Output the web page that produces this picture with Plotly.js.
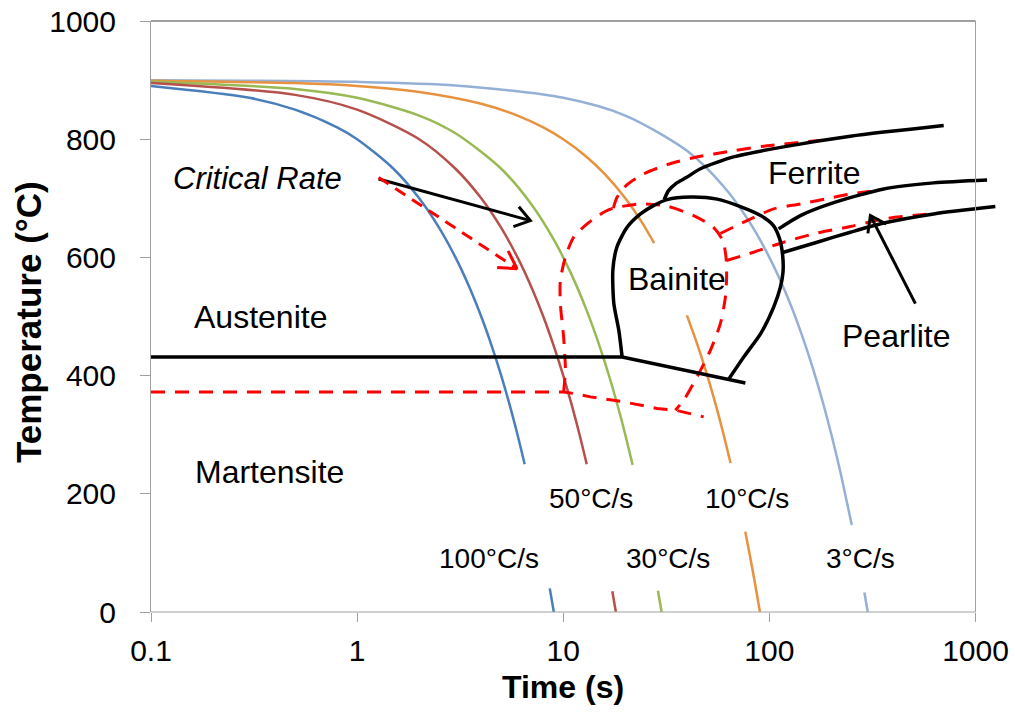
<!DOCTYPE html>
<html><head><meta charset="utf-8">
<script src="https://cdn.plot.ly/plotly-3.0.1.min.js"></script>
<style>html,body{margin:0;padding:0;background:#fff;}#chart{width:1015px;height:713px;}</style>
</head><body><div id="chart"></div>
<script>
// ---------- data (time in s, temperature in °C) ----------
const rateLabels = ['100°C/s', '50°C/s', '30°C/s', '10°C/s', '3°C/s'];
const xTickVals = [0.1, 1, 10, 100, 1000];
const xTickText = ['0.1', '1', '10', '100', '1000'];
const yTickVals = [0, 200, 400, 600, 800, 1000];

// cooling curves (null = gap left for the labels)
const t100 = [0.1, 0.3, 0.5, 0.8, 1, 1.5, 2, 2.5, 3, 3.5, 4, 4.5, 5, 5.5, 6, 6.5, null, 8.6, 9.0];
const T100 = [890, 870, 850, 820, 800, 750, 700, 650, 600, 550, 500, 450, 400, 350, 300, 250, null, 40, 0];
const t50 = [0.1, 0.5, 1, 2, 3, 4, 5, 6, 7, 8, 9, 10, 11, 12, 13, null, 17.3, 18];
const T50 = [895, 875, 850, 800, 750, 700, 650, 600, 550, 500, 450, 400, 350, 300, 250, null, 35, 0];
const t30 = [0.1, 0.5, 1, 2, 3, 5, 7, 9, 11, 13, 15, 17, 19, 20, 21.7, null, 28.8, 30];
const T30 = [897, 885, 870, 840, 810, 750, 690, 630, 570, 510, 450, 390, 330, 300, 249, null, 36, 0];
const t10 = [0.1, 0.5, 1, 2, 4, 6, 8, 10, 13, 16, 20, 24, 27.6, null, 39.8, 45, 50, 55, 60, 64.8, null, 76.4, 80, 85, 90];
const T10 = [899, 895, 890, 880, 860, 840, 820, 800, 770, 740, 700, 660, 624, null, 502, 450, 400, 350, 300, 252, null, 136, 100, 50, 0];
const t3 = [0.1, 1, 3, 10, 20, 40, 60, 80, 100, 120, 140, 160, 180, 200, 220, 251, null, 289, 300];
const T3 = [899.7, 897, 891, 870, 840, 780, 720, 660, 600, 540, 480, 420, 360, 300, 240, 147, null, 33, 0];

// solid black transformation boundaries
const msBlackT = [0.1, 19.3, 76.5];
const msBlackC = [431.5, 431.5, 387.6];
const bainBlackT = [19.3, 18.6, 17.6, 17.4, 18.2, 20.4, 23.7, 27.4, 31.9, 41.4, 55.8, 72.3, 90.7, 104.6, 112, 116, 116.4, 113.1, 104.9, 90.7, 75.1, 63.5];
const bainBlackC = [431.5, 476.6, 521.7, 577.9, 617.3, 651.0, 673.6, 687.6, 697.8, 702.0, 698.6, 686.0, 670.8, 653.9, 631.9, 603.2, 574.5, 549.7, 515.9, 471.0, 431.5, 394];
const ferBlackT = [30.9, 32.4, 35.2, 39.5, 46.3, 67, 117, 247, 701];
const ferBlackC = [698, 713, 725, 735, 750, 770, 787, 805, 823];
const pearUpBlackT = [110.9, 141.4, 205.1, 358.6, 626.6, 1138];
const pearUpBlackC = [648.3, 670.8, 692.7, 715.8, 726.1, 731.0];
const pearLoBlackT = [116, 170.4, 247.2, 358.6, 626.6, 1248];
const pearLoBlackC = [608.3, 625.7, 642.6, 658.1, 673.6, 686.0];

// dashed red boundaries
const msRedT = [0.1, 10.04, 11.23, 13.54, 19.64, 28.52, 34.98, 41.36, 48.0];
const msRedC = [372.4, 372.4, 369.7, 364.0, 355.6, 344.4, 341.5, 336.0, 330.2];
const bainRedT = [10.04, 10.24, 10.04, 9.68, 9.68, 10.24, 11.23, 13.05, 15.70, 17.50, 20.40, 23.66, 31.89, 42.9, 53.7, 59.4, 61.6, 62.0, 61.16, 57.83, 51.73, 44.58, 38.38, 34.98];
const bainRedC = [372.4, 409.1, 465.3, 521.7, 561.0, 600.4, 634.1, 656.7, 676.3, 683.4, 687.6, 690.5, 686.8, 670.8, 650.5, 628.6, 600.4, 566.1, 532.3, 487.9, 442.8, 397.8, 358.4, 341.5];
const ferRedT = [17.5, 18.24, 20.4, 24.55, 31.89, 42.92, 67.11, 97.46, 183.4];
const ferRedC = [683.4, 701.7, 723.1, 741.2, 756.9, 768.7, 780.5, 788.9, 798.6];
const pearUpRedT = [57.83, 77.96, 104.9, 141.4, 205.1, 247.2, 309.0];
const pearUpRedC = [640.4, 662.3, 682.1, 690.5, 701.7, 707.1, 711.8];
const pearLoRedT = [62.0, 83.93, 117.3, 170.4, 247.2, 358.6, 604];
const pearLoRedC = [594.8, 608.8, 625.7, 641.2, 652.2, 665.2, 673.6];

// arrows: [tail, tip] as [time, temperature]
const arrowCritBlack = [[1.271, 732.7], [6.923, 662.3]];
const arrowCritRed = [[1.271, 735.4], [5.969, 580.8]];
const arrowPearlite = [[510.9, 521.7], [309.0, 670.8]];

// ---------- layout geometry ----------
const W = 1015, Hh = 713;
const M = {l: 151, r: 16, t: 21, b: 101};
const PW = W - M.l - M.r, PH = Hh - M.t - M.b;
const XMIN = 0.1, XMAX = 1300;
const LX0 = Math.log10(XMIN), LX1 = Math.log10(XMAX);
const px = t => M.l + (Math.log10(t) - LX0) / (LX1 - LX0) * PW;
const py = T => M.t + (1000 - T) / 1000 * PH;
const ipx = p => Math.pow(10, LX0 + (p - M.l) / PW * (LX1 - LX0));
const ipy = p => 1000 - (p - M.t) / PH * 1000;
const fx = p => (p - M.l) / PW;
const fy = p => (M.t + PH - p) / PH;

function head(arrow, len, ang) {
  const [a, b] = arrow;
  const x0 = px(a[0]), y0 = py(a[1]), x1 = px(b[0]), y1 = py(b[1]);
  const th = Math.atan2(y0 - y1, x0 - x1);
  const r = ang * Math.PI / 180;
  const w1 = [x1 + len * Math.cos(th + r), y1 + len * Math.sin(th + r)];
  const w2 = [x1 + len * Math.cos(th - r), y1 + len * Math.sin(th - r)];
  return {x: [ipx(w1[0]), b[0], ipx(w2[0])], y: [ipy(w1[1]), b[1], ipy(w2[1])]};
}

const cool = (x, y, c) => ({x, y, type: 'scatter', mode: 'lines', line: {color: c, width: 2.5, shape: 'spline', smoothing: 0.8}, connectgaps: false, hoverinfo: 'skip', showlegend: false});
const blk = (x, y, sp) => ({x, y, type: 'scatter', mode: 'lines', line: {color: '#000', width: 3.5, shape: sp ? 'spline' : 'linear', smoothing: 0.7}, hoverinfo: 'skip', showlegend: false});
const red = (x, y, sp) => ({x, y, type: 'scatter', mode: 'lines', line: {color: '#FF0000', width: 3, dash: '14px,10px', shape: sp ? 'spline' : 'linear', smoothing: 0.7}, hoverinfo: 'skip', showlegend: false});

const hb = head(arrowCritBlack, 18, 35);
const hr = head(arrowCritRed, 20, 30);
const hp = head(arrowPearlite, 18, 35);

const traces = [
  cool(t3, T3, '#95B0D6'),
  cool(t10, T10, '#E8913F'),
  cool(t30, T30, '#98B954'),
  cool(t50, T50, '#B5504C'),
  cool(t100, T100, '#4A7EBB'),
  red(msRedT, msRedC, false),
  red(bainRedT, bainRedC, true),
  red(ferRedT, ferRedC, true),
  red(pearUpRedT, pearUpRedC, true),
  red(pearLoRedT, pearLoRedC, true),
  blk(msBlackT, msBlackC, false),
  blk(bainBlackT, bainBlackC, true),
  blk(ferBlackT, ferBlackC, true),
  blk(pearUpBlackT, pearUpBlackC, true),
  blk(pearLoBlackT, pearLoBlackC, true),
  {x: arrowCritBlack.map(p => p[0]), y: arrowCritBlack.map(p => p[1]), type: 'scatter', mode: 'lines', line: {color: '#000', width: 3}, hoverinfo: 'skip', showlegend: false},
  {x: hb.x, y: hb.y, type: 'scatter', mode: 'lines', line: {color: '#000', width: 3}, hoverinfo: 'skip', showlegend: false},
  {x: arrowCritRed.map(p => p[0]), y: arrowCritRed.map(p => p[1]), type: 'scatter', mode: 'lines', line: {color: '#FF0000', width: 3, dash: '12px,8px'}, hoverinfo: 'skip', showlegend: false},
  {x: hr.x, y: hr.y, type: 'scatter', mode: 'lines', line: {color: '#FF0000', width: 3}, hoverinfo: 'skip', showlegend: false},
  {x: arrowPearlite.map(p => p[0]), y: arrowPearlite.map(p => p[1]), type: 'scatter', mode: 'lines', line: {color: '#000', width: 3}, hoverinfo: 'skip', showlegend: false},
  {x: hp.x, y: hp.y, type: 'scatter', mode: 'lines', line: {color: '#000', width: 3}, hoverinfo: 'skip', showlegend: false}
];

const FONT = 'Liberation Sans, Arial, sans-serif';
const lab = (text, cx, cy, size, extra) => Object.assign({text, xref: 'paper', yref: 'paper', x: fx(cx), y: fy(cy), xanchor: 'center', yanchor: 'middle', showarrow: false, font: {family: FONT, size, color: '#000'}}, extra || {});

const x1000 = fx(px(1000));
const layout = {
  width: W, height: Hh,
  margin: M,
  paper_bgcolor: '#fff', plot_bgcolor: '#fff',
  showlegend: false,
  xaxis: {type: 'log', range: [LX0, LX1], tickvals: xTickVals, ticktext: xTickText, ticks: 'outside', ticklen: 9, tickcolor: '#A0A0A0', tickwidth: 1,
          showline: false, showgrid: false, zeroline: false, tickfont: {family: FONT, size: 30, color: '#000'}, ticklabelstandoff: 3, fixedrange: true},
  yaxis: {range: [0, 1000], tickvals: yTickVals, ticks: 'outside', ticklen: 10, tickcolor: '#A0A0A0', tickwidth: 1,
          showline: true, linecolor: '#A0A0A0', linewidth: 1, showgrid: false, zeroline: false, tickfont: {family: FONT, size: 30, color: '#000'}, ticklabelstandoff: 18, fixedrange: true},
  shapes: [
    {type: 'line', xref: 'paper', yref: 'paper', x0: 0, x1: x1000, y0: 0, y1: 0, line: {color: '#A0A0A0', width: 1}},
    {type: 'line', xref: 'paper', yref: 'paper', x0: 0, x1: x1000, y0: 1, y1: 1, line: {color: '#404040', width: 1}},
    {type: 'line', xref: 'paper', yref: 'paper', x0: x1000, x1: x1000, y0: 0, y1: 1, line: {color: '#A0A0A0', width: 1}}
  ],
  annotations: [
    lab('Time (s)', px(10), 687, 32, {font: {family: FONT, size: 32, color: '#000', weight: 'bold'}}),
    lab('Temperature (°C)', 29, 322, 35, {textangle: -90, font: {family: FONT, size: 35, color: '#000', weight: 'bold'}}),
    lab('<i>Critical Rate</i>', 257, 178, 31),
    lab('Austenite', 260, 317, 32),
    lab('Martensite', 269, 472, 32),
    lab('Bainite', 677, 279, 32),
    lab('Ferrite', 814, 173, 32),
    lab('Pearlite', 896, 336, 32),
    lab(rateLabels[0], 489, 558, 28),
    lab(rateLabels[1], 591, 498, 28),
    lab(rateLabels[2], 668, 558, 28),
    lab(rateLabels[3], 747, 498, 28),
    lab(rateLabels[4], 860, 558, 28)
  ]
};

Plotly.newPlot('chart', traces, layout, {displayModeBar: false, staticPlot: true});
</script>
</body></html>
